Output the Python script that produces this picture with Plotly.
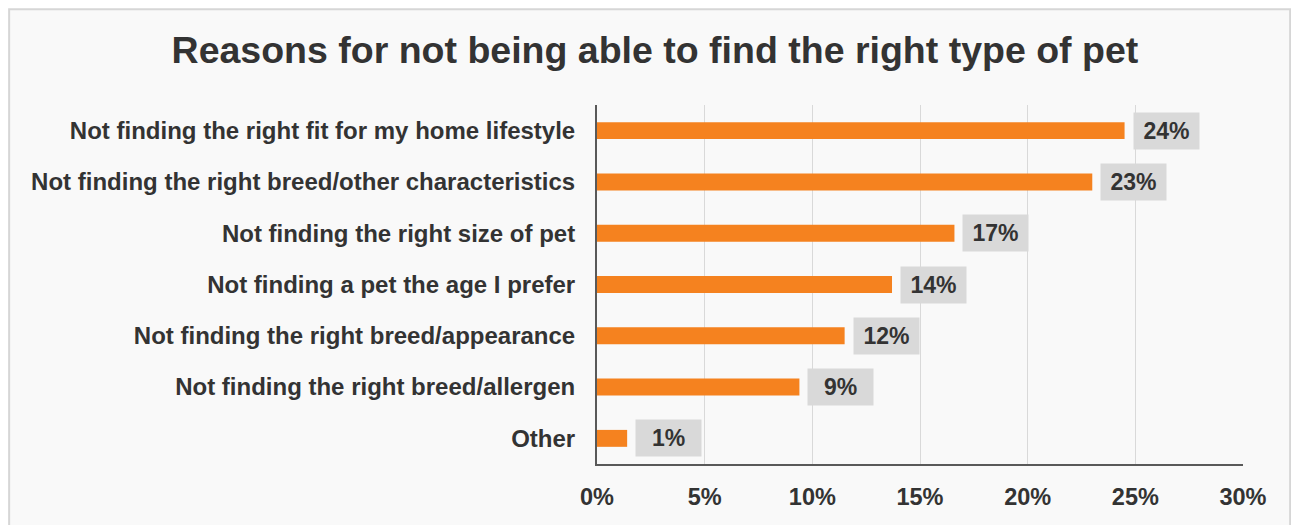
import plotly.graph_objects as go

reasons = [
    "Not finding the right fit for my home lifestyle",
    "Not finding the right breed/other characteristics",
    "Not finding the right size of pet",
    "Not finding a pet the age I prefer",
    "Not finding the right breed/appearance",
    "Not finding the right breed/allergen",
    "Other",
]
shares = [24.5, 23.0, 16.6, 13.7, 11.5, 9.4, 1.4]
share_labels = ["24%", "23%", "17%", "14%", "12%", "9%", "1%"]
x_ticks = [0, 5, 10, 15, 20, 25, 30]
x_tick_labels = ["0%", "5%", "10%", "15%", "20%", "25%", "30%"]

ORANGE = "#f5821f"
TEXT = "#333333"
FONT = "Liberation Sans, Arial, sans-serif"

fig = go.Figure(
    go.Bar(
        x=shares,
        y=reasons,
        orientation="h",
        width=0.33,
        marker=dict(color=ORANGE, line=dict(width=0)),
        hoverinfo="skip",
    )
)

# grey value boxes to the right of each bar
for reason, value, label in zip(reasons, shares, share_labels):
    fig.add_annotation(
        x=value,
        y=reason,
        text=f"<b>{label}</b>",
        showarrow=False,
        xanchor="left",
        xshift=8,
        bgcolor="#d9d9d9",
        width=63,
        height=34,
        borderpad=1,
        align="center",
        font=dict(size=23, color=TEXT, family=FONT),
    )

fig.update_layout(
    width=1299,
    height=525,
    title=dict(
        text="<b>Reasons for not being able to find the right type of pet</b>",
        x=0.498,
        xanchor="center",
        y=1 - 42 / 525,
        yanchor="middle",
        font=dict(size=37.5, color=TEXT, family=FONT),
    ),
    margin=dict(l=589, r=64, t=97, b=69),
    paper_bgcolor="#ffffff",
    plot_bgcolor="rgba(0,0,0,0)",
    font=dict(family=FONT, color=TEXT, size=18),
    showlegend=False,
    shapes=[
        dict(
            type="rect",
            xref="paper",
            yref="paper",
            x0=-0.910,
            x1=1.073,
            y0=-0.25,
            y1=1.267,
            fillcolor="#f9f9f9",
            line=dict(color="#d6d6d6", width=2),
            layer="below",
        )
    ],
)
fig.update_xaxes(
    range=[0, 30],
    tickvals=x_ticks,
    ticktext=[f"<b>{t}</b>" for t in x_tick_labels],
    showgrid=True,
    gridcolor="#d9d9d9",
    gridwidth=1,
    showline=True,
    linecolor="#595959",
    linewidth=2,
    zeroline=False,
    ticks="",
    tickfont=dict(size=23.5, color=TEXT),
    ticklabelstandoff=11,
)
fig.update_yaxes(
    categoryorder="array",
    categoryarray=list(reversed(reasons)),
    tickvals=reasons,
    ticktext=[f"<b>{r}</b>" for r in reasons],
    showline=True,
    linecolor="#595959",
    linewidth=2,
    showgrid=False,
    ticks="",
    tickfont=dict(size=24, color=TEXT),
    ticklabelstandoff=15,
)

fig.write_html("out.html")
